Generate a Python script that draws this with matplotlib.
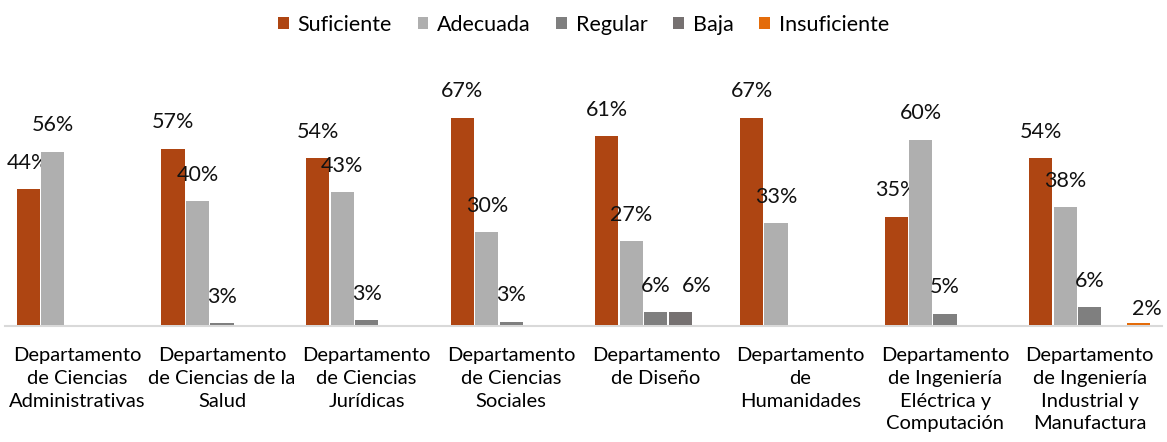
import matplotlib
matplotlib.use("Agg")
import matplotlib.pyplot as plt
import numpy as np

plt.rcParams['font.family'] = ['Lato', 'DejaVu Sans']

categories = [
    "Departamento\nde Ciencias\nAdministrativas",
    "Departamento\nde Ciencias de la\nSalud",
    "Departamento\nde Ciencias\nJurídicas",
    "Departamento\nde Ciencias\nSociales",
    "Departamento\nde Diseño\n",
    "Departamento\nde\nHumanidades",
    "Departamento\nde Ingeniería\nEléctrica y\nComputación",
    "Departamento\nde Ingeniería\nIndustrial y\nManufactura",
]

series = ["Suficiente", "Adecuada", "Regular", "Baja", "Insuficiente"]
colors = ["#AE4512", "#AFAFAF", "#7F7F7F", "#767171", "#E46C0A"]

# bar heights (as drawn)
suficiente = [44, 57, 54, 67, 61, 67, 35, 54]
adecuada = [56, 40, 43, 30, 27, 33, 60, 38]
regular = [None, 0.6, 1.5, 1.0, 4.2, None, 3.6, 5.8]
baja = [None, None, None, None, 4.2, None, None, None]
insuficiente = [None, None, None, None, None, None, None, 0.7]

# data label texts
lab_suficiente = ["44%", "57%", "54%", "67%", "61%", "67%", "35%", "54%"]
lab_adecuada = ["56%", "40%", "43%", "30%", "27%", "33%", "60%", "38%"]
lab_regular = [None, "3%", "3%", "3%", "6%", None, "5%", "6%"]
lab_baja = [None, None, None, None, "6%", None, None, None]
lab_insuficiente = [None, None, None, None, None, None, None, "2%"]

values = [suficiente, adecuada, regular, baja, insuficiente]
labels = [lab_suficiente, lab_adecuada, lab_regular, lab_baja, lab_insuficiente]

# label offsets in points (dx, dy) per series
label_offsets = [(0, 19), (0, 19), (0, 19), (12, 19), (6, 10)]

W, H = 1167, 442
fig = plt.figure(figsize=(W / 100, H / 100), dpi=100)
ax = fig.add_axes([5 / W, (H - 326) / H, 1157 / W, 251 / H])

x = np.arange(len(categories))
pitch = 0.169
bw = 0.16
for k, (name, vals, labs, col) in enumerate(zip(series, values, labels, colors)):
    xs = x + (k - 2) * pitch
    hv = [v if v is not None else 0 for v in vals]
    mask = [v is not None for v in vals]
    ax.bar(xs[mask], np.array(hv)[mask], width=bw, color=col, label=name,
           linewidth=0, zorder=3)
    dx, dy = label_offsets[k]
    for xi, v, t in zip(xs, vals, labs):
        if v is not None and t:
            ax.annotate(t, (xi, v), xytext=(dx, dy), textcoords='offset points',
                        ha='center', va='center', fontsize=15.5, color='#111111')

ax.set_xlim(-0.5, 7.5)
ax.set_ylim(-0.35, 251 / 3.09 - 0.35)
ax.set_yticks([])
ax.set_xticks(x)
ax.set_xticklabels(categories, fontsize=14.5, linespacing=1.42, va='top')
ax.tick_params(axis='x', length=0, pad=15)
for s in ['top', 'right', 'left']:
    ax.spines[s].set_visible(False)
ax.spines['bottom'].set_color('#D9D9D9')
ax.spines['bottom'].set_linewidth(1.5)
ax.spines['bottom'].set_zorder(1)

fig.legend(loc='upper center', bbox_to_anchor=(0.5, 1.01), ncol=5, frameon=False,
           fontsize=15.5, handlelength=0.5, handleheight=0.5, handletextpad=0.4,
           columnspacing=1.2)

fig.savefig("out.png", dpi=100)
